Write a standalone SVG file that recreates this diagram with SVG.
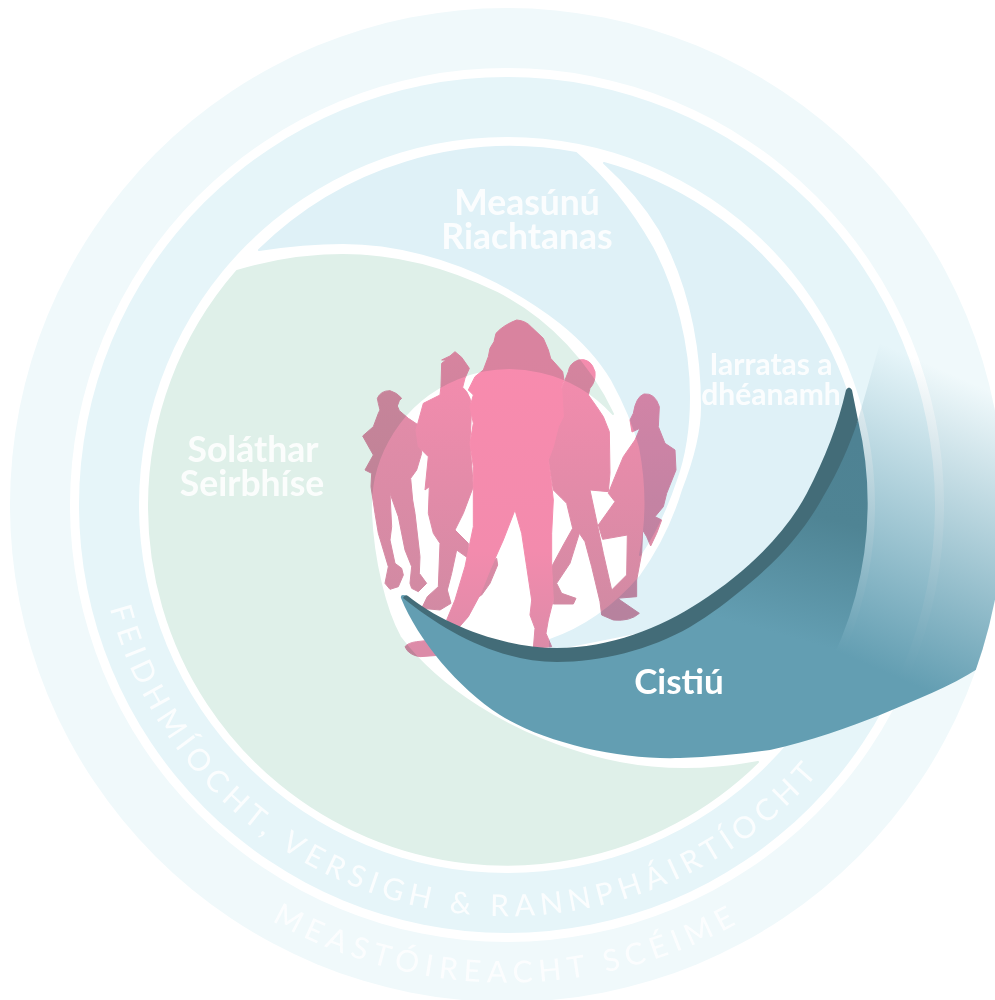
<svg xmlns="http://www.w3.org/2000/svg" xmlns:xlink="http://www.w3.org/1999/xlink" width="995" height="1000" viewBox="0 0 995 1000">
<style>
.lbl{font-family:"Lato","Liberation Sans",sans-serif;font-weight:700;fill:#fff;text-anchor:middle}
.ring{font-family:"Lato","Liberation Sans",sans-serif;font-weight:400;fill:#fff;font-size:30px}
.seg{stroke-width:2;stroke-linejoin:round}
.fig{stroke-width:3;stroke-linejoin:round}
</style>
<defs>
<linearGradient id="gFade" gradientUnits="userSpaceOnUse" x1="885" y1="345" x2="765" y2="620">
<stop offset="0" stop-color="#639eb2" stop-opacity="0"/><stop offset="1" stop-color="#639eb2" stop-opacity="1"/>
</linearGradient>
<linearGradient id="gBody" gradientUnits="userSpaceOnUse" x1="855" y1="440" x2="800" y2="640">
<stop offset="0" stop-color="#4e8293"/><stop offset=".4" stop-color="#4f8494"/><stop offset="1" stop-color="#639eb2"/>
</linearGradient>
<linearGradient id="gC" gradientUnits="userSpaceOnUse" x1="0" y1="60" x2="0" y2="1050">
<stop offset="0" stop-color="#f98bae"/><stop offset=".7" stop-color="#f38bad"/><stop offset="1" stop-color="#dc8ba8"/>
</linearGradient>
<linearGradient id="gS" gradientUnits="userSpaceOnUse" x1="0" y1="170" x2="0" y2="950">
<stop offset="0" stop-color="#f58cae"/><stop offset="1" stop-color="#d18aa3"/>
</linearGradient>
<linearGradient id="gL" gradientUnits="userSpaceOnUse" x1="0" y1="270" x2="0" y2="880">
<stop offset="0" stop-color="#e48ca9"/><stop offset="1" stop-color="#d28aa3"/>
</linearGradient>
<clipPath id="outerClip"><circle cx="507" cy="505" r="497"/></clipPath>
<path id="arcInner" d="M110,608 A410,410 0 0 0 901,620"/>
<path id="arcOuter" d="M141,812 A478,478 0 0 0 873,812"/>
</defs>

<rect width="995" height="1000" fill="#fff"/>
<g id="ring-outer"><circle cx="507" cy="505" r="497" fill="#f0f9fb"/>
<text class="ring" letter-spacing="6.5" text-anchor="middle" opacity=".8"><textPath href="#arcOuter" xlink:href="#arcOuter" startOffset="50%">MEASTÓIREACHT SCÉIME</textPath></text></g>
<g id="ring-middle"><circle cx="507" cy="505" r="437" fill="#fff"/><circle cx="507" cy="505" r="428" fill="#e6f5f9"/>
<text class="ring" letter-spacing="6.1" opacity=".85"><textPath href="#arcInner" xlink:href="#arcInner" startOffset="0">FEIDHMÍOCHT, VERSIGH &amp; RANNPHÁIRTÍOCHT</textPath></text></g>
<circle cx="507" cy="505" r="368" fill="#fff"/>

<g id="node-iarratas">
<path class="seg" fill="#dff1f7" stroke="#dff1f7" d="M604,163 A358,358 0 0 1 866,505 L700,620 L550,650 L550,640 C585,628 615,606 640,577 C658,552 674,520 683,490 C694,462 702,435 702,407 C702,345 690,285 660,230 C645,205 625,182 604,163 Z"/>
<text class="lbl" font-size="30" opacity=".9"><tspan x="771" y="375">Iarratas a</tspan><tspan x="771" y="405">dhéanamh</tspan></text>
</g>

<g id="node-measunu">
<path class="seg" fill="#dff1f7" stroke="#dff1f7" d="M259,250 A358,358 0 0 1 576,153 C608,180 632,212 652,247 C675,290 689,345 689,397 C689,425 685,455 676,480 C667,507 655,533 640,555 Q651,505 640,447 C634,425 624,402 612,380 C585,335 540,305 497,282 C450,258 395,243 343,243 C315,243 285,246 259,250 Z"/>
<text class="lbl" font-size="35.5" opacity=".9"><tspan x="527" y="215">Measúnú</tspan><tspan x="527" y="249">Riachtanas</tspan></text>
</g>

<g id="node-solathar">
<path class="seg" fill="#dff0e9" stroke="#dff0e9" d="M237,271 A358,358 0 0 0 149,505 A358,358 0 0 0 758,762 C700,773 640,772 580,753 C510,732 440,690 400,637 C385,610 373,560 371,513 A139,139 0 0 1 613,414 C590,365 550,320 497,293 C450,270 397,255 343,255 C305,255 270,261 237,271 Z"/>
<text class="lbl" font-size="35.5" opacity=".9"><tspan x="253" y="462">Soláthar</tspan><tspan x="252" y="496">Seirbhíse</tspan></text>
</g>

<g id="people" transform="translate(340,300) scale(.33333)" style="mix-blend-mode:multiply">
<path class="fig" fill="url(#gL)" stroke="url(#gL)" d="M112,295 Q122,272 150,272 Q172,278 185,295 L178,302 L172,318 L178,332 L205,355 L235,375 L245,460 L230,510 L212,535 L218,600 L225,640 L240,770 L238,820 L260,850 L235,875 L215,865 L210,850 L215,800 L195,750 L175,650 L150,580 L155,680 L150,720 L165,790 L185,805 L190,825 L175,860 L150,868 L135,850 L145,800 L115,700 L105,640 L93,560 L95,520 L75,510 L100,465 L68,408 L100,380 L115,340 L120,330 L115,310 Z"/>
<path class="fig" fill="url(#gS)" stroke="url(#gS)" d="M303,260 L305,190 L318,180 L305,180 L330,168 L345,155 L365,172 L388,205 L375,235 L368,262 L380,275 L390,295 L395,320 L390,430 L400,560 L370,640 L345,690 L385,730 L385,775 L350,750 L335,820 L322,870 L333,910 L300,930 L245,925 L262,890 L295,860 L300,730 L280,700 L265,640 L268,560 L255,570 L265,470 L235,440 L228,390 L250,310 L300,285 Z"/>
<path class="fig" fill="url(#gS)" stroke="url(#gS)" d="M470,775 L473,795 L450,850 L425,885 L400,900 L430,800 Z"/>
<path class="fig" fill="url(#gS)" stroke="url(#gS)" d="M685,215 Q688,190 715,180 Q752,172 765,215 Q768,245 750,265 L745,285 L770,320 L790,350 L808,395 L810,520 L805,575 L750,570 L765,640 L790,760 L815,870 L840,900 L898,940 Q870,965 820,960 L785,945 L780,905 L755,800 L735,725 L718,700 L690,790 L650,850 L665,880 L708,895 L700,912 L640,912 L635,800 L670,735 L698,685 L680,610 L665,595 L640,570 L625,480 L640,400 L665,265 Z"/>
<path class="fig" fill="url(#gS)" stroke="url(#gS)" d="M880,340 Q888,290 912,282 Q945,278 958,320 L955,380 L975,430 L1005,450 L1008,510 L980,580 L970,620 L945,650 L965,660 L950,700 L932,738 L920,710 L908,690 L905,760 L890,840 L890,890 L830,895 L815,870 L860,825 L862,705 L788,718 L775,675 L825,605 L805,580 L825,530 L850,470 L885,420 L900,385 L876,396 L870,360 Z"/>
<path class="fig" fill="url(#gC)" stroke="url(#gC)" d="M530,60 Q558,62 575,82 L610,115 L625,150 L632,175 L668,215 L672,240 L665,262 L670,350 L655,380 L640,440 L625,480 L632,530 L640,600 L635,700 L635,800 L640,900 L625,960 L618,1000 L635,1040 L580,1045 L585,985 L570,945 L575,900 L560,800 L545,700 L525,630 L490,720 L450,810 L420,885 L385,950 L350,990 L320,960 L345,900 L375,800 L400,680 L400,500 L390,430 L400,370 L390,320 L400,285 L385,270 L405,230 L430,210 L445,170 L450,145 L462,125 L468,100 Q490,75 530,60 Z"/>
<path class="fig" fill="url(#gC)" stroke="url(#gC)" d="M195,1040 Q205,1028 230,1025 L275,1020 L310,1065 L240,1070 Q205,1065 195,1040 Z"/>
</g>

<g id="node-cistiu">
<g clip-path="url(#outerClip)"><path fill="url(#gFade)" d="M858,420 L880,343 L1010,343 L1010,640 L979,668 C950,687 915,700 880,715 C850,727 810,741 770,750 L800,600 Z"/></g>
<path fill="url(#gBody)" d="M401,598 C418,640 458,688 500,715 C545,743 620,760 680,758 C712,757 742,754 770,750 A361,361 0 0 0 858,420 C830,480 770,560 700,612 C650,645 600,655 557,655 C500,655 445,627 407,596 Q400,593 401,598 Z"/>
<path fill="#436c78" d="M403,598 Q405,594 408,596 C440,622 500,648 557,648 C610,648 660,628 700,602 C745,573 785,535 807,493 C825,458 838,425 846,390 Q849,385 852,390 L858,420 C850,445 838,472 823,497 C805,530 780,558 750,583 C730,600 710,615 690,627 C650,650 600,662 557,662 C500,662 445,632 403,598 Z"/>
<text class="lbl" font-size="35" x="679" y="694">Cistiú</text>
</g>
</svg>
